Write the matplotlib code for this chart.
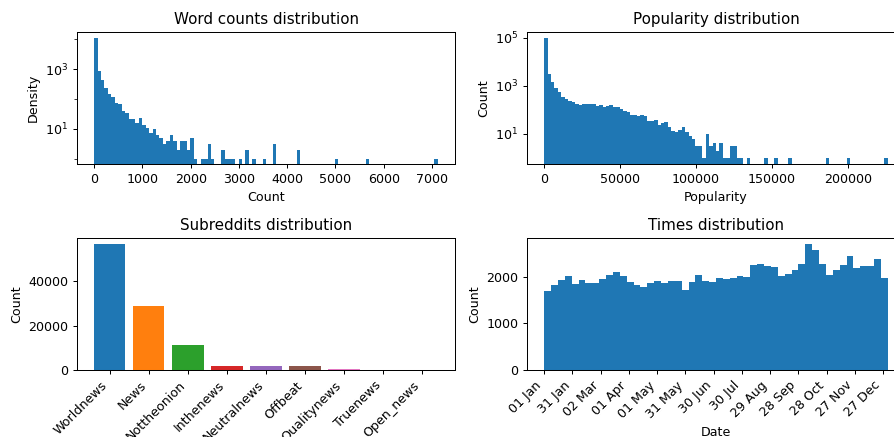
import numpy as np
import pandas as pd
import matplotlib
matplotlib.use("Agg")
import matplotlib.pyplot as plt
import matplotlib.dates as mdates
from matplotlib.ticker import NullFormatter

# Word counts histogram (100 bins over 0..7120)
wc_max = 7120
wc_counts = [11000, 850, 425, 230, 145, 114, 72, 66, 39, 33,
             22, 21, 16, 24, 13, 11, 7, 10, 6, 5,
             3, 4, 6, 4, 2, 4, 4, 2, 5, 1,
             0, 1, 1, 3, 1, 0, 0, 2, 1, 1,
             1, 0, 1, 0, 2, 0, 1, 0, 0, 1,
             0, 0, 3, 0, 0, 0, 0, 0, 0, 2,
             0, 0, 0, 0, 0, 0, 0, 0, 0, 0,
             1, 0, 0, 0, 0, 0, 0, 0, 0, 1,
             0, 0, 0, 0, 0, 0, 0, 0, 0, 0,
             0, 0, 0, 0, 0, 0, 0, 0, 0, 1]
wc_yticks = [1e1, 1e3]
wc_yminor = [1e0, 1e2, 1e4]

# Popularity histogram (100 bins over 0..226400)
pop_max = 226400
pop_counts = [98000, 3160, 1430, 800, 550, 340, 280, 230, 210, 175,
              158, 175, 175, 175, 175, 142, 158, 128, 142, 158,
              128, 128, 107, 88, 80, 60, 60, 55, 60, 55,
              34, 34, 37, 23, 28, 31, 19, 13, 12, 14,
              19, 12, 8, 6, 3, 3, 1, 10, 3, 4,
              2, 4, 1, 1, 3, 3, 1, 1, 0, 1,
              0, 0, 0, 0, 1, 0, 0, 1, 0, 0,
              0, 1, 0, 0, 0, 0, 0, 0, 0, 0,
              0, 0, 1, 0, 0, 0, 0, 0, 1, 0,
              0, 0, 0, 0, 0, 0, 0, 0, 0, 1]

# Subreddits
subreddits = ["Worldnews", "News", "Nottheonion", "Inthenews", "Neutralnews",
              "Offbeat", "Qualitynews", "Truenews", "Open_news"]
sub_counts = [56770, 28900, 11370, 1950, 1900, 1850, 500, 200, 150]

# Times histogram (50 bins over one year)
t_start = "2021-01-01"
t_end = "2022-01-01"
time_counts = [1694, 1823, 1930, 2015, 1844, 1930, 1865, 1865, 1951, 2036,
               2100, 2015, 1887, 1823, 1780, 1865, 1908, 1865, 1908, 1908,
               1716, 1887, 2036, 1908, 1887, 1972, 1951, 1972, 2015, 1994,
               2250, 2271, 2229, 2207, 2015, 2058, 2143, 2271, 2699, 2571,
               2271, 2036, 2143, 2250, 2443, 2186, 2229, 2229, 2378, 1972]
time_ticks = pd.date_range(t_start, periods=13, freq="30D")

W, H, DPI = 894, 437, 91
fig = plt.figure(figsize=(W / DPI, H / DPI), dpi=DPI)

def box(l, t, r, b):
    return [l / W, (H - b) / H, (r - l) / W, (b - t) / H]

ax1 = fig.add_axes(box(77, 32, 455, 164))
ax2 = fig.add_axes(box(527, 32, 905, 164))
ax3 = fig.add_axes(box(77, 238, 455, 370))
ax4 = fig.add_axes(box(527, 238, 905, 370))

# Word counts
edges = np.linspace(0, wc_max, len(wc_counts) + 1)
ax1.hist(edges[:-1], bins=edges, weights=wc_counts, log=True)
ax1.set_yticks(wc_yticks)
ax1.set_yticks(wc_yminor, minor=True)
ax1.yaxis.set_minor_formatter(NullFormatter())
ax1.set_ylim(10 ** -0.18, 10 ** 4.25)
ax1.set_title("Word counts distribution")
ax1.set_xlabel("Count")
ax1.set_ylabel("Density")

# Popularity
edges = np.linspace(0, pop_max, len(pop_counts) + 1)
ax2.hist(edges[:-1], bins=edges, weights=pop_counts, log=True)
ax2.set_ylim(10 ** -0.26, 10 ** 5.24)
ax2.set_title("Popularity distribution")
ax2.set_xlabel("Popularity")
ax2.set_ylabel("Count")

# Subreddits
colors = ["C%d" % i for i in range(len(subreddits))]
ax3.bar(subreddits, sub_counts, color=colors)
ax3.set_title("Subreddits distribution")
ax3.set_ylabel("Count")
plt.setp(ax3.get_xticklabels(), rotation=45, ha="right")

# Times
t0 = mdates.date2num(pd.Timestamp(t_start))
t1 = mdates.date2num(pd.Timestamp(t_end))
edges = np.linspace(t0, t1, len(time_counts) + 1)
ax4.hist(edges[:-1], bins=edges, weights=time_counts)
ax4.xaxis_date()
ax4.set_xticks(mdates.date2num(time_ticks))
ax4.xaxis.set_major_formatter(mdates.DateFormatter("%d %b"))
plt.setp(ax4.get_xticklabels(), rotation=45, ha="right")
ax4.set_title("Times distribution")
ax4.set_xlabel("Date")
ax4.set_ylabel("Count")

fig.savefig("out.png", dpi=DPI)
